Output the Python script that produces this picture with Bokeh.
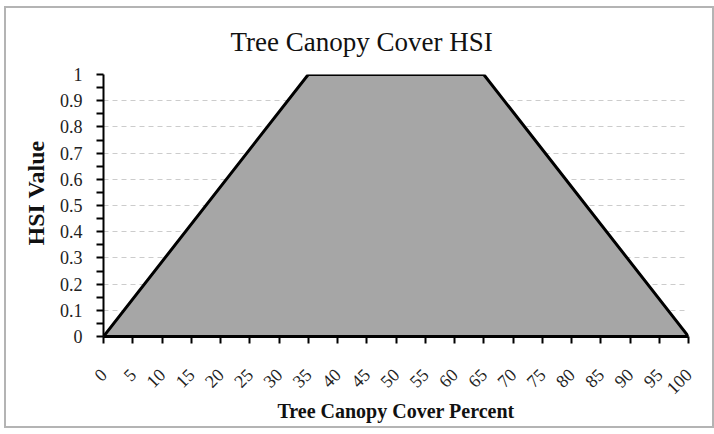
import math
from bokeh.plotting import figure
from bokeh.models import Range1d, FixedTicker, Title
from bokeh.embed import file_html
from bokeh.resources import INLINE

# Data
canopy_pct = [0, 35, 65, 100]
hsi_value = [0, 1, 1, 0]
x_ticks = list(range(0, 101, 5))
y_ticks = [0, 0.1, 0.2, 0.3, 0.4, 0.5, 0.6, 0.7, 0.8, 0.9, 1]
y_minor = [0.05, 0.15, 0.25, 0.35, 0.45, 0.55, 0.65, 0.75, 0.85, 0.95]
y_labels = {0: "0", 0.1: "0.1", 0.2: "0.2", 0.3: "0.3", 0.4: "0.4", 0.5: "0.5",
            0.6: "0.6", 0.7: "0.7", 0.8: "0.8", 0.9: "0.9", 1: "1"}

SERIF = "Liberation Serif"

p = figure(width=710, height=422, output_backend="svg", toolbar_location=None,
           x_range=Range1d(0, 100), y_range=Range1d(0, 1),
           min_border_left=97, min_border_right=28, min_border_top=66, min_border_bottom=94)
p.title = Title(text="Tree Canopy Cover HSI", align="left", offset=127,
                vertical_align="top",
                text_font=SERIF, text_font_size="27px", text_font_style="normal",
                text_color="#111111", standoff=32)

p.outline_line_color = None
p.background_fill_color = "white"
p.border_fill_color = "white"
p.styles = {"border": "2px solid #b4b4b4", "box-sizing": "border-box",
            "margin-left": "4px", "margin-top": "6px"}

p.patch(canopy_pct, hsi_value, fill_color="#a6a6a6", line_color="black", line_width=3)

# grids
p.xgrid.visible = False
p.ygrid.ticker = FixedTicker(ticks=y_ticks[1:])
p.ygrid.grid_line_color = "#cccccc"
p.ygrid.grid_line_dash = "5 4"
p.ygrid.grid_line_width = 1

# y axis
p.yaxis.ticker = FixedTicker(ticks=y_ticks, minor_ticks=y_minor)
p.yaxis.major_label_overrides = y_labels
p.yaxis.major_label_text_font = SERIF
p.yaxis.major_label_text_font_size = "18px"
p.yaxis.major_label_text_color = "#222222"
p.yaxis.major_label_standoff = 14
p.yaxis.axis_line_width = 2
p.yaxis.major_tick_out = 7
p.yaxis.major_tick_in = 0
p.yaxis.minor_tick_out = 7
p.yaxis.minor_tick_in = 0
p.yaxis.major_tick_line_width = 2
p.yaxis.minor_tick_line_width = 2

ylab = Title(text="HSI Value", align="left", offset=91, standoff=16,
             text_font=SERIF, text_font_size="24px", text_font_style="bold",
             text_color="#111111")
p.add_layout(ylab, "left")

# x axis
p.xaxis.ticker = FixedTicker(ticks=x_ticks, minor_ticks=[])
p.xaxis.axis_label = "Tree Canopy Cover Percent"
p.xaxis.axis_label_text_font = SERIF
p.xaxis.axis_label_text_font_style = "bold"
p.xaxis.axis_label_text_font_size = "20px"
p.xaxis.axis_label_text_color = "#111111"
p.xaxis.axis_label_standoff = -3
p.xaxis.major_label_text_font = SERIF
p.xaxis.major_label_text_font_size = "18px"
p.xaxis.major_label_text_color = "#222222"
p.xaxis.major_label_orientation = math.pi / 4
p.xaxis.major_label_standoff = 28
p.xaxis.axis_line_width = 3
p.xaxis.major_tick_out = 7
p.xaxis.major_tick_in = 0
p.xaxis.major_tick_line_width = 2

open("out.html", "w").write(file_html(p, INLINE))
